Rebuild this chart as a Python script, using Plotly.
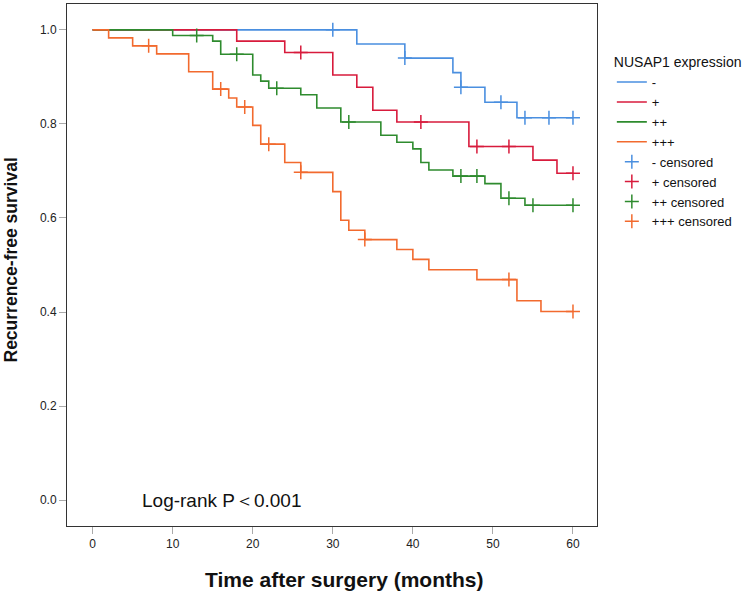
import plotly.graph_objects as go

# ---- data ----
groups = ["-", "+", "++", "+++"]
colors = ["#4a8fe0", "#d81b3c", "#2e8b2e", "#f26a2e"]

neg_t = [0, 33, 39, 45, 46, 49, 53, 60]
neg_s = [1.0, 0.970, 0.940, 0.909, 0.878, 0.846, 0.813, 0.813]
neg_ct = [30, 39, 46, 51, 54, 57, 60]
neg_cs = [1.0, 0.940, 0.878, 0.846, 0.813, 0.813, 0.813]

pos_t = [0, 18, 24, 30, 33, 35, 38, 47, 55, 58, 60]
pos_s = [1.0, 0.976, 0.952, 0.904, 0.878, 0.829, 0.804, 0.752, 0.723, 0.695, 0.695]
pos_ct = [26, 41, 48, 52, 60]
pos_cs = [0.952, 0.804, 0.752, 0.752, 0.695]

pp_t = [0, 10, 15, 16, 20, 21, 22, 26, 28, 31, 36, 38, 40, 41, 42, 45, 49, 51, 54, 60]
pp_s = [1.0, 0.988, 0.976, 0.948, 0.904, 0.891, 0.876, 0.862, 0.834, 0.804, 0.776,
        0.761, 0.747, 0.718, 0.702, 0.689, 0.673, 0.642, 0.627, 0.627]
pp_ct = [13, 18, 23, 32, 46, 48, 52, 55, 60]
pp_cs = [0.988, 0.948, 0.876, 0.804, 0.689, 0.689, 0.642, 0.627, 0.627]

ppp_t = [0, 2, 5, 8, 12, 15, 17, 18, 20, 21, 24, 26, 30, 31, 32, 34, 38, 40, 42, 48, 53, 56, 60]
ppp_s = [1.0, 0.983, 0.966, 0.949, 0.911, 0.874, 0.855, 0.836, 0.797, 0.757, 0.718, 0.697,
         0.656, 0.595, 0.574, 0.554, 0.533, 0.512, 0.490, 0.469, 0.424, 0.401, 0.401]
ppp_ct = [7, 16, 19, 22, 26, 34, 52, 60]
ppp_cs = [0.966, 0.874, 0.836, 0.757, 0.697, 0.554, 0.469, 0.401]

curves = [(neg_t, neg_s), (pos_t, pos_s), (pp_t, pp_s), (ppp_t, ppp_s)]
censors = [(neg_ct, neg_cs), (pos_ct, pos_cs), (pp_ct, pp_cs), (ppp_ct, ppp_cs)]

x_ticks = [0, 10, 20, 30, 40, 50, 60]
y_ticks = [0.0, 0.2, 0.4, 0.6, 0.8, 1.0]

x_title = "Time after surgery (months)"
y_title = "Recurrence-free survival"
legend_title = "NUSAP1 expression"
stat_text = "Log-rank P＜0.001"

FONT = "Liberation Sans, Arial, sans-serif"

fig = go.Figure()
for g, c, (t, s) in zip(groups, colors, curves):
    fig.add_trace(go.Scatter(x=t, y=s, mode="lines", line=dict(color=c, width=1.6, shape="hv"),
                             name=g, hoverinfo="skip"))
for g, c, (t, s) in zip(groups, colors, censors):
    fig.add_trace(go.Scatter(x=t, y=s, mode="markers", name=g + " censored",
                             marker=dict(symbol="cross-thin-open", size=10, color=c,
                                         line=dict(color=c, width=1.5)),
                             hoverinfo="skip"))

fig.add_annotation(x=5.9, y=0.0, xref="x", yref="y", text=stat_text,
                   showarrow=False, xanchor="left", yanchor="middle",
                   font=dict(family=FONT, size=19, color="#111"))
# axis titles (placed as annotations to match the reference's offsets)
fig.add_annotation(x=0.5245, y=-0.1034, xref="paper", yref="paper", text="<b>%s</b>" % x_title,
                   showarrow=False, xanchor="center", yanchor="middle",
                   font=dict(family=FONT, size=21, color="#111"))
fig.add_annotation(x=-0.1057, y=0.5105, xref="paper", yref="paper", text="<b>%s</b>" % y_title,
                   showarrow=False, xanchor="center", yanchor="middle", textangle=-90,
                   font=dict(family=FONT, size=17.5, color="#111"))

axis_common = dict(showgrid=False, zeroline=False, showline=True, mirror=True,
                   linecolor="#333", linewidth=1, ticks="outside", ticklen=7,
                   tickcolor="#aaa", tickwidth=1, automargin=False,
                   tickfont=dict(family=FONT, size=12, color="#222"))

fig.update_layout(
    width=749, height=596,
    margin=dict(l=67, r=152, t=4, b=70),
    plot_bgcolor="white", paper_bgcolor="white",
    xaxis=dict(range=[-3.2, 63.0], tickvals=x_ticks, ticktext=[str(v) for v in x_ticks],
               **axis_common),
    yaxis=dict(range=[-0.055, 1.055], tickvals=y_ticks,
               ticktext=["%.1f" % v for v in y_ticks],
               **axis_common),
    legend=dict(x=1.028, y=0.914, xanchor="left", yanchor="top",
                title=dict(text=legend_title, font=dict(family=FONT, size=14, color="#111")),
                font=dict(family=FONT, size=13, color="#111"),
                bgcolor="rgba(0,0,0,0)", tracegroupgap=0, itemwidth=30),
    showlegend=True,
)

fig.write_html("out.html", config={"displayModeBar": False},
               post_script="document.body.style.margin='0';document.body.style.padding='0';")
